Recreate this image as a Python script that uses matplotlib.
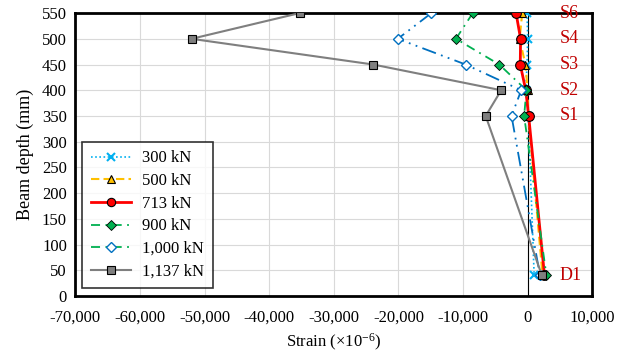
import numpy as np
import matplotlib.pyplot as plt
from matplotlib.lines import Line2D

plt.rcParams['font.family'] = ['Liberation Serif', 'DejaVu Serif']
plt.rcParams['mathtext.fontset'] = 'custom'
plt.rcParams['mathtext.rm'] = 'Liberation Serif'

# gauge positions along the beam depth (mm)
depth = [550, 500, 450, 400, 350, 40]
gauges = ['S6', 'S4', 'S3', 'S2', 'S1', 'D1']

# strain readings (x10^-6) for each load step
strain_300 = [-100, 0, -100, -300, 100, 1000]
strain_500 = [-850, -1250, -350, 0, 100, 2300]
strain_713 = [-1800, -1100, -1150, -300, 150, 2600]
strain_900 = [-8500, -11100, -4400, -200, -550, 2900]
strain_1000 = [-14900, -20100, -9600, -1000, -2500, 1900]
strain_1137 = [-35300, -52000, -23900, -4100, -6500, 2200]

fig = plt.figure(figsize=(6.17, 3.54), dpi=100)
ax = fig.add_axes([0.122, 0.164, 0.838, 0.799])

ax.plot(strain_300, depth, color='#00B0F0', ls=(0, (1, 1.5)), lw=1.2,
        marker='x', ms=6, mew=1.5, label='300 kN', zorder=3)
ax.plot(strain_500, depth, color='#FFC000', ls=(0, (4, 2)), lw=1.5,
        marker='^', ms=6, mfc='#FFC000', mec='black', mew=0.8, label='500 kN', zorder=3)
ax.plot(strain_713, depth, color='#FF0000', ls='-', lw=2,
        marker='o', ms=7, mfc='#FF0000', mec='black', mew=0.8, label='713 kN', zorder=3)
ax.plot(strain_900, depth, color='#00B050', ls=(0, (5, 3, 1, 3)), lw=1.3,
        marker='D', ms=5, mfc='#00B050', mec='black', mew=0.6, label='900 kN', zorder=3)
ax.plot(strain_1000, depth, color='#0070C0', ls=(0, (8, 3, 1, 3, 1, 3)), lw=1.3,
        marker='D', ms=5, mfc='white', mec='#0070C0', mew=1, label='1,000 kN', zorder=3)
ax.plot(strain_1137, depth, color='#7F7F7F', ls='-', lw=1.5,
        marker='s', ms=6, mfc='#7F7F7F', mec='black', mew=0.8, label='1,137 kN', zorder=4)

ax.axvline(0, color='black', lw=0.8, zorder=2)

for d, g in zip(depth, gauges):
    ax.text(5000, d, g, color='#C00000', fontsize=13, va='center', ha='left', zorder=5)

ax.set_xlim(-70000, 10000)
ax.set_ylim(0, 550)
ax.set_xticks(np.arange(-70000, 10001, 10000))
ax.set_yticks(np.arange(0, 551, 50))
ax.xaxis.set_major_formatter(plt.FuncFormatter(lambda v, p: f'{int(v):,}'))
ax.tick_params(length=0, labelsize=12)
ax.tick_params(axis='x', pad=10)
ax.tick_params(axis='y', pad=6)
ax.grid(True, color='#D9D9D9', lw=0.8)
ax.set_axisbelow(True)
for s in ax.spines.values():
    s.set_linewidth(2)
    s.set_color('black')

ax.set_xlabel('Strain (×10$\\mathregular{^{-6}}$)', fontsize=12, labelpad=4)
ax.set_ylabel('Beam depth (mm)', fontsize=13, labelpad=6)

# legend keys: the 1,000 kN key uses a green dash line
handles = [
    Line2D([], [], color='#00B0F0', ls=(0, (1, 1.5)), lw=1.2, marker='x', ms=6, mew=1.5),
    Line2D([], [], color='#FFC000', ls=(0, (4, 2)), lw=1.5, marker='^', ms=6,
           mfc='#FFC000', mec='black', mew=0.8),
    Line2D([], [], color='#FF0000', lw=2, marker='o', ms=6, mfc='#FF0000', mec='black', mew=0.8),
    Line2D([], [], color='#00B050', ls=(0, (5, 3, 1, 3)), lw=1.3, marker='D', ms=5,
           mfc='#00B050', mec='black', mew=0.6),
    Line2D([], [], color='#00B050', ls=(0, (5, 3, 1, 3)), lw=1.3, marker='D', ms=5,
           mfc='white', mec='#0070C0', mew=1),
    Line2D([], [], color='#7F7F7F', lw=1.5, marker='s', ms=6, mfc='#7F7F7F', mec='black', mew=0.8),
]
labels = ['300 kN', '500 kN', '713 kN', '900 kN', '1,000 kN', '1,137 kN']
leg = ax.legend(handles, labels, loc='lower left', bbox_to_anchor=(0.0135, 0.028),
                fontsize=12, frameon=True, fancybox=False, edgecolor='black',
                handlelength=2.4, handletextpad=0.7, borderpad=0.5, labelspacing=0.4,
                borderaxespad=0)
leg.get_frame().set_linewidth(1.2)

fig.savefig('out.png', dpi=100)
